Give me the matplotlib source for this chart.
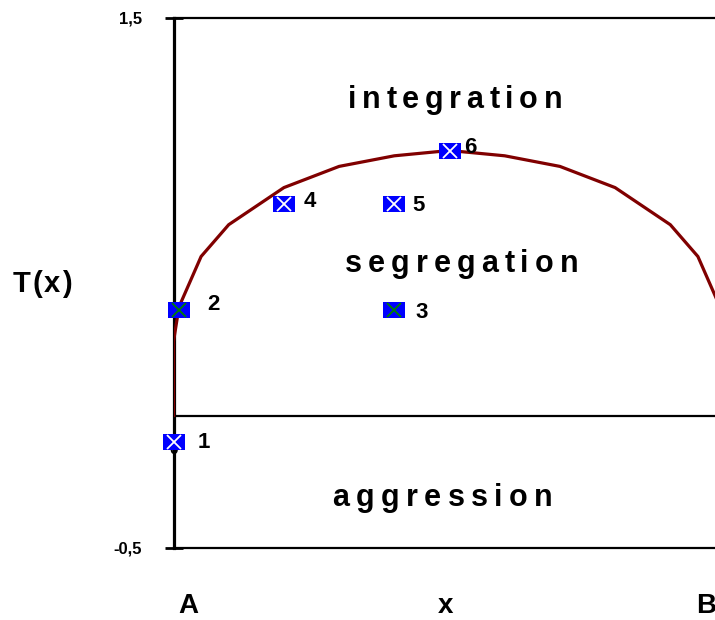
import matplotlib
matplotlib.use("Agg")
import matplotlib.pyplot as plt
from matplotlib.transforms import offset_copy

# curve T(x)
curve_x = [0, 0.0001, 0.01, 0.05, 0.1, 0.2, 0.3, 0.4, 0.5, 0.6, 0.7, 0.8, 0.9, 0.95, 0.99, 0.9999, 1]
curve_y = [0, 0.28, 0.41, 0.60, 0.72, 0.86, 0.94, 0.98, 1.0, 0.98, 0.94, 0.86, 0.72, 0.60, 0.41, 0.28, 0]

# numbered points
pt_x = [0, 0.01, 0.4, 0.2, 0.4, 0.5]
pt_y = [-0.1, 0.4, 0.4, 0.8, 0.8, 1.0]
pt_names = ["1", "2", "3", "4", "5", "6"]
pt_cross = ["white", "green", "green", "white", "white", "white"]
name_offsets = [(30, 0), (34, 5), (27, -3), (26, 2), (24, -2), (21, 3)]  # pixels

regions = ["integration", "segregation", "aggression"]
ytick_vals = [-0.5, 1.5]
ytick_labels = ["-0,5", "1,5"]

FONT = ["Liberation Sans", "DejaVu Sans"]
W, H = 715, 620

fig = plt.figure(figsize=(W / 100, H / 100), dpi=100)
# x from 0 to 1 spans pixels 173.5 .. 725.5, so the right side is cut off
left, right = 173.5, 725.5
top, bottom = 18, 548
ax = fig.add_axes([left / W, 1 - bottom / H, (right - left) / W, (bottom - top) / H])
ax.set_xlim(0, 1)
ax.set_ylim(-0.5, 1.5)

for s in ["top", "bottom"]:
    ax.spines[s].set_linewidth(1.6)
ax.spines["left"].set_linewidth(2.3)
ax.spines["right"].set_visible(False)
ax.set_xticks([])
ax.set_yticks(ytick_vals)
ax.set_yticklabels(ytick_labels, fontsize=12, fontweight="bold", family=FONT)
ax.tick_params(axis="y", direction="inout", length=13, width=2, pad=16)

ax.axhline(0, color="black", lw=1.6, zorder=2)
ax.plot(curve_x, curve_y, color="#800000", lw=2.3, zorder=3, solid_joinstyle="miter")

# small "0" hidden behind point 1
ax.text(0, -0.13, "0", fontsize=11, fontweight="bold", family=FONT,
        ha="center", va="center", zorder=3)

box = [(-1, -0.72), (1, -0.72), (1, 0.72), (-1, 0.72), (-1, -0.72)]
for x, y, c in zip(pt_x, pt_y, pt_cross):
    ax.plot(x, y, marker=box, ms=15.5, color="#0000ff", mew=0, zorder=4, clip_on=False)
    ax.plot(x, y, marker="x", ms=10, color=c, mew=1.3, zorder=5, clip_on=False)

for x, y, name, (dx, dy) in zip(pt_x, pt_y, pt_names, name_offsets):
    ax.annotate(name, (x, y), xytext=(dx * 0.72, dy * 0.72), textcoords="offset points",
                fontsize=16, fontweight="bold", family=FONT,
                ha="center", va="center", zorder=6)

renderer = fig.canvas.get_renderer()


def spaced_text(px_center, px_base, text, size, px_width):
    # letter-spaced text, placed in figure pixels
    widths = []
    for ch in text:
        t = fig.text(0, 0, ch, fontsize=size, fontweight="bold", family=FONT)
        widths.append(t.get_window_extent(renderer).width)
        t.remove()
    gap = (px_width - sum(widths)) / max(len(text) - 1, 1)
    x0 = -px_width / 2
    for ch, w in zip(text, widths):
        tr = offset_copy(fig.transFigure, fig=fig, x=x0, y=0, units="dots")
        fig.text(px_center / W, 1 - px_base / H, ch, transform=tr, fontsize=size,
                 fontweight="bold", family=FONT, ha="left", va="baseline")
        x0 += w + gap


spaced_text(455, 108, regions[0], 22, 214)
spaced_text(461.5, 272, regions[1], 22, 233)
spaced_text(442.5, 506, regions[2], 22, 221)
spaced_text(42.5, 292, "T(x)", 21, 59)

for label, px in [("A", 188), ("x", 446), ("B", 706)]:
    fig.text(px / W, 1 - 619 / H, label, fontsize=20, fontweight="bold", family=FONT,
             ha="center", va="bottom")

fig.savefig("out.png", dpi=100)
